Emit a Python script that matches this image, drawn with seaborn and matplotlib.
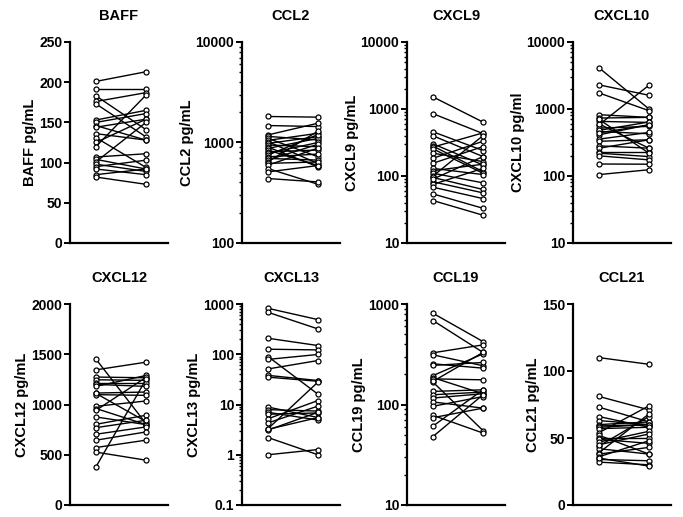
import numpy as np
import pandas as pd
import seaborn as sns
import matplotlib
matplotlib.use("Agg")
import matplotlib.pyplot as plt
from matplotlib.ticker import FixedLocator, FuncFormatter, NullFormatter, LogLocator

# ---------------- data (paired: pre -> post) ----------------
baff_pre  = [201, 192, 183, 176, 173, 153, 150, 146, 144, 136, 131, 125, 120, 107, 104, 101, 98, 95, 92, 85, 82]
baff_post = [213, 192, 141, 187, 132, 165, 161, 128, 154, 128, 94, 154, 184, 111, 92, 150, 89, 103, 85, 92, 73]

ccl2_pre  = [1815, 1475, 1190, 1150, 1100, 1050, 1019, 980, 944, 900, 874, 840, 809, 780, 750, 720, 694, 670, 643, 620, 595, 551, 510, 438]
ccl2_post = [1787, 1441, 1556, 1059, 721, 1236, 618, 1144, 908, 573, 1100, 590, 841, 1000, 1200, 767, 668, 960, 1300, 640, 880, 384, 590, 405]

cxcl9_pre  = [1514, 851, 457, 398, 302, 280, 270, 254, 219, 184, 155, 130, 120, 110, 100, 95, 82, 75, 68, 54, 43, 90]
cxcl9_post = [638, 430, 240, 195, 146, 116, 440, 110, 164, 330, 275, 105, 150, 79, 400, 63, 56, 130, 46, 33, 26, 195]

cxcl10_pre  = [4121, 2291, 1738, 822, 733, 653, 582, 519, 462, 412, 355, 330, 282, 260, 232, 219, 200, 151, 105, 480, 600, 700, 440]
cxcl10_post = [1000, 1603, 944, 750, 750, 631, 2265, 550, 427, 582, 447, 347, 260, 347, 232, 195, 174, 150, 124, 640, 260, 219, 580]

cxcl12_pre  = [1451, 1345, 1273, 1246, 1213, 1200, 1180, 1114, 1098, 1110, 982, 960, 942, 876, 803, 770, 704, 645, 572, 526, 380]
cxcl12_post = [810, 1421, 1266, 1240, 1213, 1180, 1289, 1124, 1091, 830, 1035, 800, 1270, 800, 893, 843, 777, 727, 645, 446, 1250]

cxcl13_pre  = [820, 684, 208, 126, 90, 79, 51, 38, 35, 8.9, 7.9, 7.0, 6.4, 5.2, 4.3, 3.3, 3.1, 3.2, 2.2, 1.0]
cxcl13_post = [489, 319, 149, 122, 16, 99, 75, 30, 29, 5.5, 7.4, 4.9, 6.8, 12, 9.3, 28, 7.0, 5.5, 1.0, 1.27]

ccl19_pre  = [808, 684, 327, 312, 254, 245, 194, 185, 180, 167, 170, 135, 125, 116, 106, 96, 78, 74, 61, 48]
ccl19_post = [423, 330, 392, 243, 230, 262, 319, 128, 176, 55, 330, 140, 133, 128, 92, 120, 52, 92, 140, 125]

ccl21_pre  = [110, 81, 73, 66, 63, 60, 59, 58, 57, 54, 52, 50, 49, 47, 44, 42, 39, 38, 36, 34, 32, 35, 45]
ccl21_post = [105, 71, 62, 58, 60, 62, 60, 60, 58, 74, 38, 50, 46, 55, 66, 38, 68, 43, 48, 33, 30, 29, 53]

panels = [
    ("BAFF",   "BAFF pg/mL",   baff_pre,   baff_post,   "linear", (0, 250),     [0, 50, 100, 150, 200, 250]),
    ("CCL2",   "CCL2 pg/mL",   ccl2_pre,   ccl2_post,   "log",    (100, 10000), [100, 1000, 10000]),
    ("CXCL9",  "CXCL9 pg/mL",  cxcl9_pre,  cxcl9_post,  "log",    (10, 10000),  [10, 100, 1000, 10000]),
    ("CXCL10", "CXCL10 pg/ml", cxcl10_pre, cxcl10_post, "log",    (10, 10000),  [10, 100, 1000, 10000]),
    ("CXCL12", "CXCL12 pg/mL", cxcl12_pre, cxcl12_post, "linear", (0, 2000),    [0, 500, 1000, 1500, 2000]),
    ("CXCL13", "CXCL13 pg/mL", cxcl13_pre, cxcl13_post, "log",    (0.1, 1000),  [0.1, 1, 10, 100, 1000]),
    ("CCL19",  "CCL19 pg/mL",  ccl19_pre,  ccl19_post,  "log",    (10, 1000),   [10, 100, 1000]),
    ("CCL21",  "CCL21 pg/mL",  ccl21_pre,  ccl21_post,  "linear", (0, 150),     [0, 50, 100, 150]),
]

sns.set_style("ticks")
plt.rcParams['font.family'] = ['Liberation Sans', 'DejaVu Sans']
plt.rcParams['font.weight'] = 'bold'
plt.rcParams['axes.labelweight'] = 'bold'
plt.rcParams['axes.titleweight'] = 'bold'
plt.rcParams['text.color'] = 'black'
plt.rcParams['axes.labelcolor'] = 'black'
plt.rcParams['xtick.color'] = 'black'
plt.rcParams['ytick.color'] = 'black'

fig = plt.figure(figsize=(6.83, 5.17), dpi=100)

lefts = [70, 242, 407, 573]
row_bottoms = [1 - 243 / 517, 1 - 505 / 517]
height = 201 / 517
width = 98 / 683

for i, (name, ylabel, pre, post, scale, ylim, ticks) in enumerate(panels):
    r, c = divmod(i, 4)
    ax = fig.add_axes([lefts[c] / 683, row_bottoms[r], width, height])
    if scale == "log":
        ax.set_yscale("log")
    n = len(pre)
    df = pd.DataFrame({
        "subject": list(range(n)) * 2,
        "time": [0] * n + [1] * n,
        "value": list(pre) + list(post),
    })
    sns.lineplot(data=df, x="time", y="value", units="subject", estimator=None,
                 color="black", linewidth=1.0, marker="o", markersize=3.6,
                 markerfacecolor="white", markeredgecolor="black",
                 markeredgewidth=0.9, ax=ax, legend=False)
    ax.set_xlim(-0.52, 1.44)
    ax.set_ylim(*ylim)
    ax.yaxis.set_major_locator(FixedLocator(ticks))
    ax.yaxis.set_major_formatter(FuncFormatter(lambda v, p: f"{v:g}"))
    if scale == "log":
        ax.yaxis.set_minor_locator(LogLocator(base=10, subs=np.arange(2, 10), numticks=20))
        ax.yaxis.set_minor_formatter(NullFormatter())
        ax.tick_params(axis="y", which="minor", length=2.5, width=1.0, color="black")
    ax.set_xticks([])
    ax.set_xlabel("")
    ax.set_ylabel(ylabel, fontsize=10.5, fontweight="bold", labelpad=1.5, color="black")
    ax.set_title(name, fontsize=10.5, fontweight="bold", pad=16, color="black")
    for s in ["top", "right"]:
        ax.spines[s].set_visible(False)
    for s in ["left", "bottom"]:
        ax.spines[s].set_linewidth(1.6)
        ax.spines[s].set_color("black")
    ax.tick_params(axis="y", which="major", length=4, width=1.4, pad=1.5,
                   labelsize=10, colors="black")
    for lab in ax.get_yticklabels():
        lab.set_fontweight("bold")

fig.savefig("out.png", dpi=100, facecolor="white")
